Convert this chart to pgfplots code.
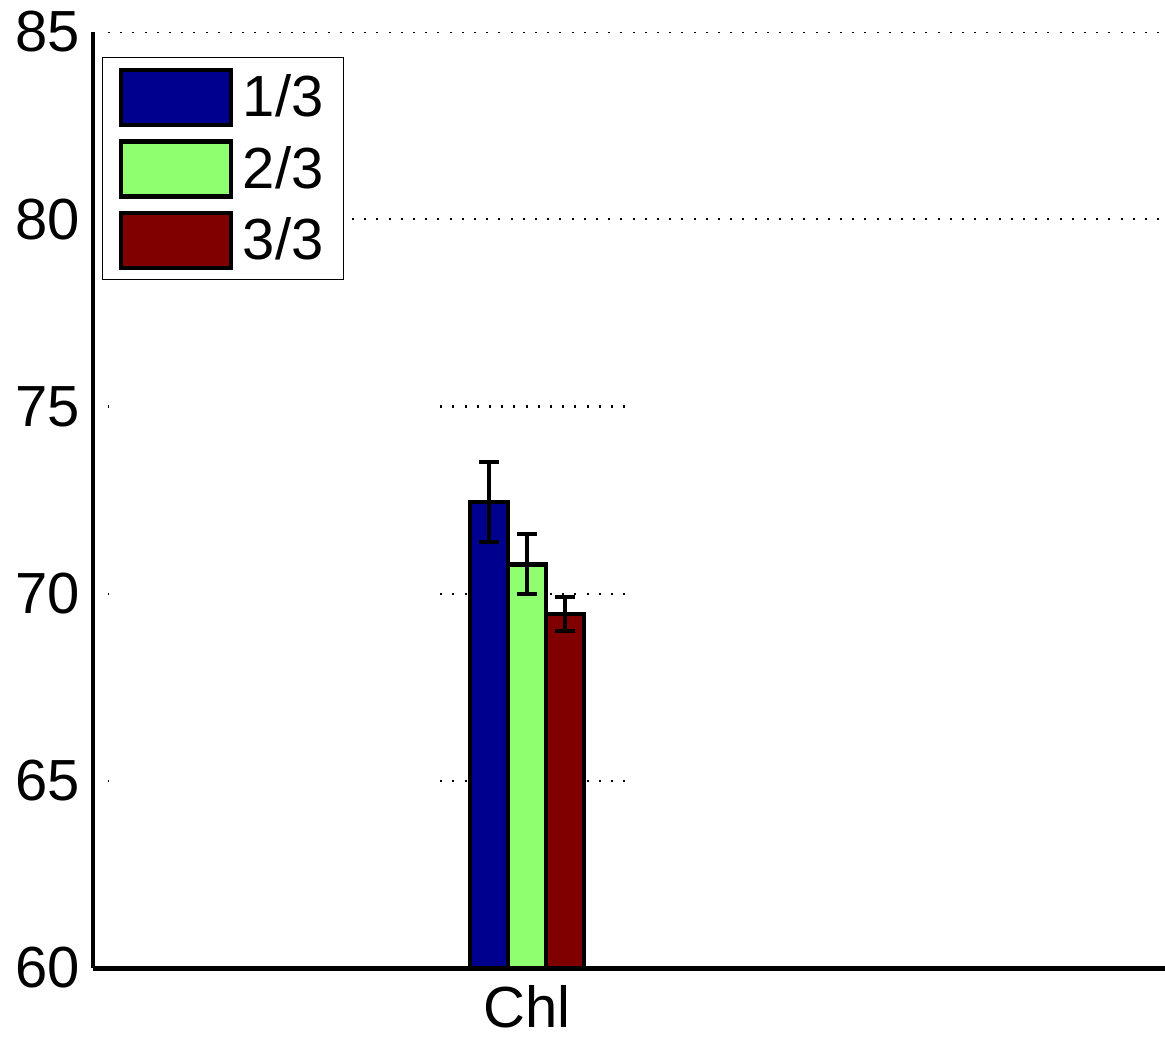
\documentclass[border=0pt]{standalone}
\usepackage{pgfplots}
\pgfplotsset{compat=1.18}
\usepackage{fontspec}
\setmainfont{Liberation Sans}
\definecolor{cA}{RGB}{0,0,143}
\definecolor{cB}{RGB}{143,255,112}
\definecolor{cC}{RGB}{128,0,0}
\pgfplotsset{
  mybar/.style={ybar, bar width=19pt, bar shift=0pt, draw=black, line width=2.2pt,
    legend image code/.code={\draw[##1, line width=2.2pt, draw=black] (0pt,-13.75pt) rectangle (55pt,13.75pt);}},
  mygrid/.style={forget plot, black, line width=1.1pt, dash pattern=on 1pt off 5.1pt},
  myerr/.style={error bars/.cd, y dir=both, y explicit,
    error bar style={line width=2pt, black, solid},
    error mark options={line width=2pt, mark size=5pt, black, solid, rotate=90}},
}
\begin{document}
\begin{tikzpicture}
\begin{axis}[
  scale only axis, width=536pt, height=468pt,
  xmin=0, xmax=2.47, ymin=60, ymax=85,
  axis x line*=bottom, axis y line*=left,
  x axis line style={line width=2.5pt},
  y axis line style={line width=2pt},
  xtick={1}, xticklabels={Chl},
  ytick={60,65,...,85},
  major tick length=0pt,
  tick label style={font=\fontsize{29}{33}\selectfont},
  /pgf/number format/assume math mode=true,
  yticklabel style={xshift=-3pt},
  xticklabel style={yshift=-5pt},
  legend style={at={(0.0084,0.973)}, anchor=north west, draw=black, line width=0.5pt,
    fill=white, font=\fontsize{29}{33}\selectfont, row sep=6pt, column sep=3pt,
    inner xsep=8pt, inner ysep=5pt},
  legend cell align=left,
]
\addplot[mygrid] coordinates {(0.0346,85) (2.47,85)};
\addplot[mygrid] coordinates {(0.0346,80) (2.47,80)};
\addplot[mygrid] coordinates {(0.0346,75) (0.037,75)};
\addplot[mygrid] coordinates {(0.80,75) (1.226,75)};
\addplot[mygrid] coordinates {(0.0346,70) (0.037,70)};
\addplot[mygrid] coordinates {(0.80,70) (1.226,70)};
\addplot[mygrid] coordinates {(0.0346,65) (0.037,65)};
\addplot[mygrid] coordinates {(0.80,65) (1.226,65)};

\addplot[mybar, fill=cA, myerr] coordinates {(0.9124,72.45) +- (0,1.07)};
\addlegendentry{1/3}
\addplot[mybar, fill=cB, myerr] coordinates {(1,70.78) +- (0,0.80)};
\addlegendentry{2/3}
\addplot[mybar, fill=cC, myerr] coordinates {(1.0876,69.46) +- (0,0.45)};
\addlegendentry{3/3}
\end{axis}
\pgfresetboundingbox
\path[use as bounding box] (-46.5pt,-36.5pt) rectangle (536pt,484pt);
\end{tikzpicture}
\end{document}
